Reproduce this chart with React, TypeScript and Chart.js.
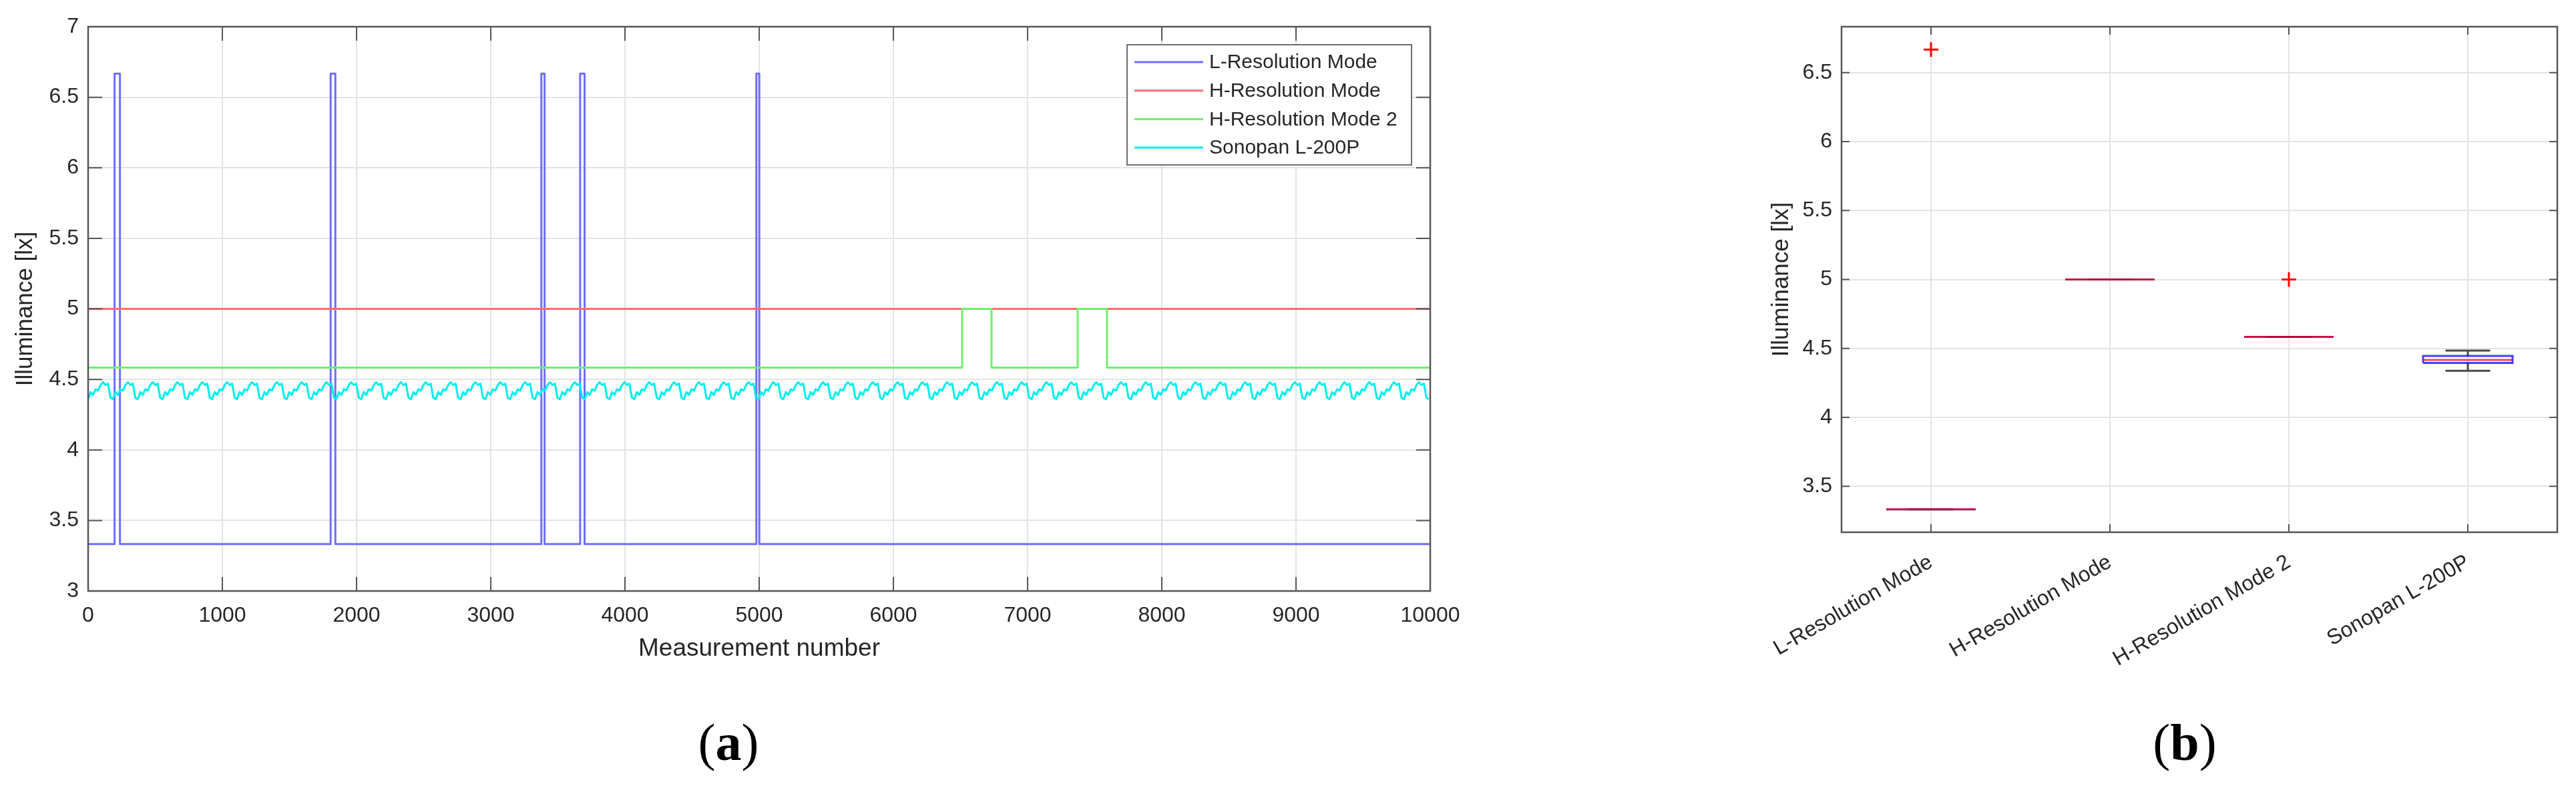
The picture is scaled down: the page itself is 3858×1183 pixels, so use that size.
import React, { useEffect, useRef } from 'react';
import { Chart, registerables } from 'chart.js';

Chart.register(...registerables);

const FONT = '"Liberation Sans", Arial, Helvetica, sans-serif';
const SERIF = '"Liberation Serif", "Times New Roman", serif';
const TEXT = '#262626';
const GRID = '#e3e3e3';
const FRAME = '#555555';

// ---------- Panel (a): time series ----------
const seriesNames = ['L-Resolution Mode', 'H-Resolution Mode', 'H-Resolution Mode 2', 'Sonopan L-200P'];
const seriesColors = ['#6e6eff', '#ff6b6b', '#6ef06e', '#00eeee'];
const measurementRange = [0, 10000];
const illuminanceRangeA = [3, 7];

const lResLevels = [3.333, 6.667]; // base, peak
const lResPulses = [
  [197, 237],
  [1807, 1842],
  [3377, 3401],
  [3666, 3699],
  [4979, 5001],
];
const hResLevels = [5.0];
const hRes2Levels = [4.583, 5.0]; // base, peak
const hRes2Pulses = [
  [6512, 6731],
  [7373, 7592],
];
// one repeating cycle of the Sonopan readings
const sonopanCycle = [4.36, 4.41, 4.39, 4.43, 4.42, 4.46, 4.48, 4.46, 4.47, 4.37];
const sonopanPeriod = 185;

// ---------- Panel (b): box plot ----------
const boxCategories = ['L-Resolution Mode', 'H-Resolution Mode', 'H-Resolution Mode 2', 'Sonopan L-200P'];
const boxMedian = [3.333, 5.0, 4.583, 4.416];
const boxQ1 = [3.333, 5.0, 4.583, 4.395];
const boxQ3 = [3.333, 5.0, 4.583, 4.445];
const whiskerLow = [3.333, 5.0, 4.583, 4.338];
const whiskerHigh = [3.333, 5.0, 4.583, 4.484];
const outlierCategory = [1, 3];
const outlierValue = [6.667, 5.0];
const boxYTicks = [3.5, 4, 4.5, 5, 5.5, 6, 6.5];
const illuminanceRangeB = [3.1667, 6.8333];

type P = { x: number; y: number | null };

function pulseSeries(levels: number[], pulses: number[][]): P[] {
  const [base, peak] = levels;
  const pts: P[] = [{ x: measurementRange[0], y: base }];
  pulses.forEach(([a, b]) => {
    pts.push({ x: a, y: base }, { x: a, y: peak }, { x: b, y: peak }, { x: b, y: base });
  });
  pts.push({ x: measurementRange[1], y: base });
  return pts;
}

function sonopanSeries(): P[] {
  const pts: P[] = [];
  const n = sonopanCycle.length;
  for (let k = 0; k * sonopanPeriod <= measurementRange[1]; k++) {
    for (let j = 0; j < n; j++) {
      const x = k * sonopanPeriod + (j * sonopanPeriod) / n;
      if (x > measurementRange[1]) break;
      pts.push({ x, y: sonopanCycle[j] });
    }
  }
  return pts;
}

const framePlugin = {
  id: 'frame',
  afterDatasetsDraw(chart: any, _a: any, opts: any) {
    const { ctx, chartArea } = chart;
    const { left, right, top, bottom } = chartArea;
    const x = chart.scales.x;
    const y = chart.scales.y;
    const L = opts.tickLen;
    ctx.save();
    ctx.strokeStyle = FRAME;
    ctx.lineWidth = 2;
    ctx.beginPath();
    x.ticks.forEach((t: any) => {
      const px = x.getPixelForValue(t.value);
      ctx.moveTo(px, bottom);
      ctx.lineTo(px, bottom - L);
      ctx.moveTo(px, top);
      ctx.lineTo(px, top + L);
    });
    y.ticks.forEach((t: any) => {
      const py = y.getPixelForValue(t.value);
      ctx.moveTo(left, py);
      ctx.lineTo(left + L, py);
      ctx.moveTo(right, py);
      ctx.lineTo(right - L, py);
    });
    ctx.stroke();
    ctx.lineWidth = 2.5;
    ctx.strokeRect(left, top, right - left, bottom - top);
    ctx.restore();
  },
};

const boxLegendPlugin = {
  id: 'boxLegend',
  afterDraw(chart: any, _a: any, opts: any) {
    if (!opts || !opts.display) return;
    const { ctx, chartArea } = chart;
    const x0 = chartArea.right - opts.offsetRight - opts.width;
    const y0 = chartArea.top + opts.offsetTop;
    ctx.save();
    ctx.fillStyle = '#ffffff';
    ctx.fillRect(x0, y0, opts.width, opts.height);
    ctx.strokeStyle = '#6e6e6e';
    ctx.lineWidth = 2;
    ctx.strokeRect(x0, y0, opts.width, opts.height);
    ctx.font = `${opts.fontSize}px ${FONT}`;
    ctx.textBaseline = 'middle';
    ctx.textAlign = 'left';
    chart.data.datasets.forEach((ds: any, i: number) => {
      const cy = y0 + opts.firstRow + i * opts.rowGap;
      ctx.strokeStyle = ds.borderColor;
      ctx.lineWidth = 3;
      ctx.beginPath();
      ctx.moveTo(x0 + opts.lineStart, cy);
      ctx.lineTo(x0 + opts.lineEnd, cy);
      ctx.stroke();
      ctx.fillStyle = TEXT;
      ctx.fillText(ds.label, x0 + opts.textStart, cy + 1);
    });
    ctx.restore();
  },
};

const tickFont = { family: FONT, size: 32 };
const titleFont = { family: FONT, size: 35 };

function makeLineChart(canvas: HTMLCanvasElement) {
  const data = [
    pulseSeries(lResLevels, lResPulses),
    [
      { x: measurementRange[0], y: hResLevels[0] },
      { x: measurementRange[1], y: hResLevels[0] },
    ],
    pulseSeries(hRes2Levels, hRes2Pulses),
    sonopanSeries(),
  ];
  return new Chart(canvas, {
    type: 'scatter',
    data: {
      datasets: seriesNames.map((name, i) => ({
        label: name,
        data: data[i],
        showLine: true,
        borderColor: seriesColors[i],
        backgroundColor: seriesColors[i],
        borderWidth: 3,
        pointRadius: 0,
        pointHoverRadius: 0,
        tension: 0,
        borderJoinStyle: 'round',
        order: 4 - i,
      })),
    },
    options: {
      responsive: false,
      animation: false,
      devicePixelRatio: 1,
      events: [],
      layout: { padding: { left: 0, right: 108, top: 40, bottom: 55 } },
      plugins: {
        legend: { display: false },
        tooltip: { enabled: false },
        frame: { tickLen: 21 },
        boxLegend: {
          display: true,
          width: 426,
          height: 180,
          offsetRight: 28,
          offsetTop: 27,
          firstRow: 26,
          rowGap: 42.7,
          lineStart: 11,
          lineEnd: 114,
          textStart: 123,
          fontSize: 30,
        },
      } as any,
      scales: {
        x: {
          type: 'linear',
          min: measurementRange[0],
          max: measurementRange[1],
          ticks: {
            stepSize: 1000,
            autoSkip: false,
            maxRotation: 0,
            padding: 18,
            color: TEXT,
            font: tickFont,
            callback: (v: any) => String(v),
          },
          grid: { color: GRID, lineWidth: 2, drawTicks: false },
          border: { display: false },
          title: {
            display: true,
            text: 'Measurement number',
            color: TEXT,
            font: { family: FONT, size: 37 },
            padding: { top: 0, bottom: 11 },
          },
          afterFit: (s: any) => {
            s.height = 120;
          },
        },
        y: {
          type: 'linear',
          min: illuminanceRangeA[0],
          max: illuminanceRangeA[1],
          ticks: {
            stepSize: 0.5,
            padding: 14,
            color: TEXT,
            font: tickFont,
            callback: (v: any) => String(v),
          },
          grid: { color: GRID, lineWidth: 2, drawTicks: false },
          border: { display: false },
          title: {
            display: true,
            text: 'Illuminance [lx]',
            color: TEXT,
            font: titleFont,
            padding: { top: 17, bottom: 0 },
          },
          afterFit: (s: any) => {
            s.width = 132;
          },
        },
      },
    } as any,
    plugins: [framePlugin, boxLegendPlugin],
  } as any);
}

function makeBoxChart(canvas: HTMLCanvasElement) {
  const gap = (i: number): P => ({ x: i, y: null });
  const boxPts: P[] = [];
  const medPts: P[] = [];
  const whiskPts: P[] = [];
  boxCategories.forEach((_, k) => {
    const c = k + 1;
    boxPts.push(
      { x: c - 0.25, y: boxQ1[k] },
      { x: c + 0.25, y: boxQ1[k] },
      { x: c + 0.25, y: boxQ3[k] },
      { x: c - 0.25, y: boxQ3[k] },
      { x: c - 0.25, y: boxQ1[k] },
      gap(c)
    );
    medPts.push({ x: c - 0.25, y: boxMedian[k] }, { x: c + 0.25, y: boxMedian[k] }, gap(c));
    whiskPts.push(
      { x: c, y: boxQ3[k] },
      { x: c, y: whiskerHigh[k] },
      gap(c),
      { x: c - 0.125, y: whiskerHigh[k] },
      { x: c + 0.125, y: whiskerHigh[k] },
      gap(c),
      { x: c, y: boxQ1[k] },
      { x: c, y: whiskerLow[k] },
      gap(c),
      { x: c - 0.125, y: whiskerLow[k] },
      { x: c + 0.125, y: whiskerLow[k] },
      gap(c)
    );
  });
  const outPts = outlierCategory.map((c, i) => ({ x: c, y: outlierValue[i] }));

  return new Chart(canvas, {
    type: 'scatter',
    data: {
      datasets: [
        {
          label: 'Outliers',
          data: outPts,
          pointStyle: 'cross',
          pointRadius: 11,
          pointBorderWidth: 3,
          borderColor: '#ff0000',
          backgroundColor: '#ff0000',
          showLine: false,
          order: 1,
        },
        {
          label: 'Median',
          data: medPts,
          showLine: true,
          spanGaps: false,
          borderColor: 'rgba(255,0,0,0.72)',
          borderWidth: 3,
          pointRadius: 0,
          order: 2,
        },
        {
          label: 'Box',
          data: boxPts,
          showLine: true,
          spanGaps: false,
          borderColor: 'rgba(0,0,255,0.75)',
          borderWidth: 3,
          pointRadius: 0,
          order: 3,
        },
        {
          label: 'Whiskers',
          data: whiskPts,
          showLine: true,
          spanGaps: false,
          borderColor: '#4a4a4a',
          borderWidth: 3,
          pointRadius: 0,
          order: 4,
        },
      ],
    },
    options: {
      responsive: false,
      animation: false,
      devicePixelRatio: 1,
      events: [],
      layout: { padding: { left: 0, right: 28, top: 40, bottom: 43 } },
      plugins: {
        legend: { display: false },
        tooltip: { enabled: false },
        frame: { tickLen: 12 },
        boxLegend: { display: false },
      } as any,
      scales: {
        x: {
          type: 'linear',
          min: 0.5,
          max: boxCategories.length + 0.5,
          afterBuildTicks: (s: any) => {
            s.ticks = boxCategories.map((_, i) => ({ value: i + 1 }));
          },
          ticks: {
            autoSkip: false,
            minRotation: 30,
            maxRotation: 30,
            padding: 26,
            color: TEXT,
            font: { family: FONT, size: 32 },
            callback: (v: any) => boxCategories[Math.round(v) - 1] ?? '',
          },
          grid: { color: GRID, lineWidth: 2, drawTicks: false },
          border: { display: false },
          afterFit: (s: any) => {
            s.height = 220;
          },
        },
        y: {
          type: 'linear',
          min: illuminanceRangeB[0],
          max: illuminanceRangeB[1],
          afterBuildTicks: (s: any) => {
            s.ticks = boxYTicks.map((v) => ({ value: v }));
          },
          ticks: {
            padding: 14,
            color: TEXT,
            font: tickFont,
            callback: (v: any) => String(v),
          },
          grid: { color: GRID, lineWidth: 2, drawTicks: false },
          border: { display: false },
          title: {
            display: true,
            text: 'Illuminance [lx]',
            color: TEXT,
            font: titleFont,
            padding: { top: 87, bottom: 0 },
          },
          afterFit: (s: any) => {
            s.width = 198;
          },
        },
      },
    } as any,
    plugins: [framePlugin],
  } as any);
}

export default function App() {
  const leftRef = useRef<HTMLCanvasElement>(null);
  const rightRef = useRef<HTMLCanvasElement>(null);

  useEffect(() => {
    const a = leftRef.current ? makeLineChart(leftRef.current) : null;
    const b = rightRef.current ? makeBoxChart(rightRef.current) : null;
    return () => {
      a?.destroy();
      b?.destroy();
    };
  }, []);

  const panelLabel: React.CSSProperties = {
    position: 'absolute',
    top: 1073,
    width: 400,
    textAlign: 'center',
    fontFamily: SERIF,
    fontSize: 78,
    lineHeight: '78px',
    color: '#000',
  };

  return (
    <div style={{ position: 'absolute', left: 0, top: 0, width: 3858, height: 1183, background: '#fff', overflow: 'hidden' }}>
      <canvas ref={leftRef} width={2250} height={1060} style={{ position: 'absolute', left: 0, top: 0, width: 2250, height: 1060 }} />
      <canvas ref={rightRef} width={1298} height={1060} style={{ position: 'absolute', left: 2560, top: 0, width: 1298, height: 1060 }} />
      <div style={{ ...panelLabel, left: 1091 - 200 }}>
        (<b>a</b>)
      </div>
      <div style={{ ...panelLabel, left: 3272 - 200 }}>
        (<b>b</b>)
      </div>
    </div>
  );
}
